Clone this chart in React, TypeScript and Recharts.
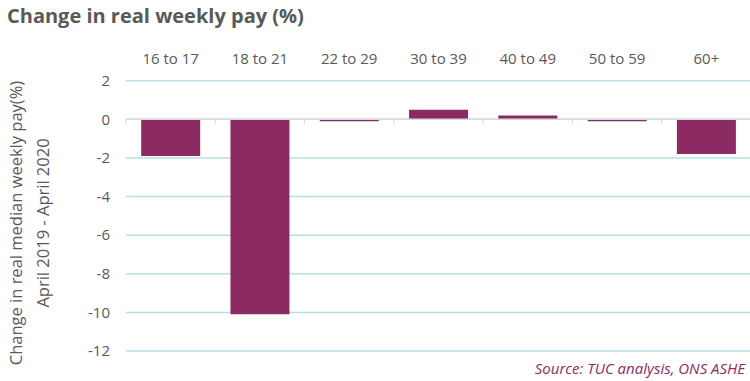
import { BarChart, Bar, XAxis, YAxis, CartesianGrid, ReferenceLine } from "recharts";

const ageGroups = ["16 to 17", "18 to 21", "22 to 29", "30 to 39", "40 to 49", "50 to 59", "60+"];
const payChange = [-1.9, -10.1, -0.1, 0.5, 0.2, -0.1, -1.8];
const yTicks = [2, 0, -2, -4, -6, -8, -10, -12];

const data = ageGroups.map((group, i) => ({ group, change: payChange[i] }));

const GREY = "#595959";
const PLUM = "#8c2b63";

// zero line carries the category tick marks, like the original axis
function ZeroAxis(props: any) {
  const { x1, y1, x2 } = props;
  const n = ageGroups.length;
  const step = (x2 - x1) / n;
  return (
    <g>
      <line x1={x1} y1={y1} x2={x2} y2={y1} stroke="#d9d9d9" strokeWidth={1.5} />
      {Array.from({ length: n + 1 }, (_, i) => (
        <line key={i} x1={x1 + i * step} y1={y1} x2={x1 + i * step} y2={y1 + 5} stroke="#d9d9d9" strokeWidth={1} />
      ))}
    </g>
  );
}

function AxisTitle() {
  const font = { fontFamily: "Open Sans", fontSize: 16.5, fill: GREY };
  return (
    <g>
      <text x={15} y={223} transform="rotate(-90 15 223)" textAnchor="middle" dominantBaseline="central" {...font}>
        Change in real median weekly pay(%)
      </text>
      <text x={42} y={223} transform="rotate(-90 42 223)" textAnchor="middle" dominantBaseline="central" {...font}>
        April 2019 - April 2020
      </text>
    </g>
  );
}

export default function App() {
  return (
    <div style={{ position: "absolute", left: 0, top: 0, width: 750, height: 381, overflow: "hidden", background: "#fff", fontFamily: "Open Sans" }}>
      <div style={{ position: "absolute", left: 7, top: 6, fontSize: 20, fontWeight: 700, lineHeight: 1, color: GREY, whiteSpace: "nowrap" }}>
        Change in real weekly pay (%)
      </div>
      <BarChart width={751} height={381} data={data} margin={{ top: 50.7, right: 0, bottom: 30, left: 56 }} barCategoryGap="17%">
        <CartesianGrid horizontal vertical={false} stroke="#b4dfe6" strokeWidth={1.5} />
        <XAxis
          dataKey="group"
          orientation="top"
          height={30}
          axisLine={false}
          tickLine={false}
          tickMargin={11}
          interval={0}
          tick={{ fontSize: 15, fill: GREY, fontFamily: "Open Sans" }}
        />
        <YAxis
          width={70}
          domain={[-12, 2]}
          ticks={yTicks}
          interval={0}
          axisLine={false}
          tickLine={false}
          tickMargin={10}
          tick={{ fontSize: 15, fill: GREY, fontFamily: "Open Sans" }}
          label={{ content: () => <AxisTitle /> }}
        />
        <Bar dataKey="change" fill={PLUM} isAnimationActive={false} />
        <ReferenceLine y={0} shape={ZeroAxis} />
      </BarChart>
      <div style={{ position: "absolute", right: 5, top: 361, fontSize: 15, fontStyle: "italic", lineHeight: 1, color: PLUM, whiteSpace: "nowrap" }}>
        Source: TUC analysis, ONS ASHE
      </div>
    </div>
  );
}
